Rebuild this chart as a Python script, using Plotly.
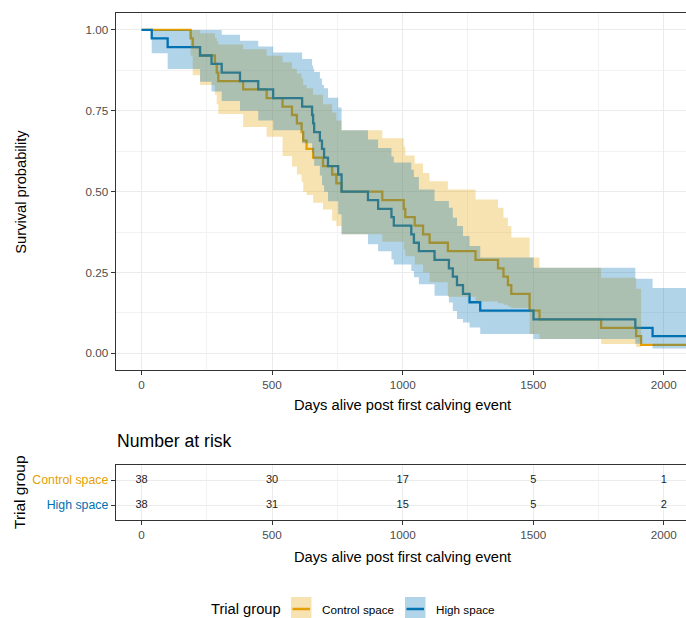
import plotly.graph_objects as go

# ---------------- data ----------------
ctrl_time = [0, 188, 196, 224, 281, 288, 294, 389, 479, 540, 576, 595, 613, 619, 632, 657, 695, 730, 746, 766,
             922, 1004, 1010, 1046, 1078, 1103, 1173, 1279, 1365, 1386, 1403, 1416, 1486, 1524, 1760, 1894, 1913]
ctrl_surv = [1.0, .974, .947, .921, .895, .868, .842, .816, .789, .763, .737, .711, .684, .658, .632, .605, .579, .553, .526, .500,
             .474, .447, .421, .395, .368, .342, .316, .289, .263, .237, .211, .184, .132, .105, .079, .053, .026]
ctrl_upper = [1.0, 1.0, 1.0, 0.99, 0.975, 0.965, 0.955, 0.94, 0.92, 0.90, 0.88, 0.865, 0.85, 0.83, 0.82, 0.80, 0.77, 0.745, 0.72, 0.69,
              0.665, 0.64, 0.612, 0.587, 0.558, 0.532, 0.507, 0.476, 0.45, 0.419, 0.394, 0.358, 0.296, 0.265, 0.234, 0.20, None]
ctrl_lower = [1.0, 0.92, 0.86, 0.83, 0.80, 0.77, 0.74, 0.70, 0.67, 0.61, 0.578, 0.553, 0.53, 0.50, 0.49, 0.466, 0.445, 0.41, 0.394, 0.368,
              0.345, 0.32, 0.30, 0.275, 0.25, 0.22, 0.175, 0.16, 0.155, 0.15, 0.145, 0.14, 0.06, 0.044, 0.029, 0.02, None]

hs_time = [0, 39, 100, 224, 268, 307, 377, 447, 504, 615, 653, 657, 661, 683, 691, 699, 714, 753, 766, 867,
           906, 957, 966, 1033, 1043, 1062, 1122, 1177, 1192, 1208, 1231, 1256, 1297, 1501, 1891, 1957]
hs_surv = [1.0, .974, .947, .921, .895, .868, .842, .816, .789, .763, .737, .711, .684, .658, .632, .605, .579, .553, .500, .474,
           .447, .421, .395, .368, .342, .316, .289, .263, .237, .211, .184, .158, .132, .105, .079, .053]
hs_upper = [1.0, 1.0, 1.0, 1.0, 1.0, 0.985, 0.967, 0.949, 0.93, 0.91, 0.89, 0.88, 0.87, 0.85, 0.83, 0.82, 0.79, 0.76, 0.69, 0.661,
            0.635, 0.609, 0.59, 0.568, 0.545, 0.507, 0.471, 0.45, 0.419, 0.394, 0.363, 0.332, 0.296, 0.265, 0.231, 0.202]
hs_lower = [1.0, 0.928, 0.879, 0.84, 0.81, 0.78, 0.75, 0.72, 0.69, 0.65, 0.62, 0.60, 0.58, 0.55, 0.52, 0.50, 0.47, 0.43, 0.368, 0.337,
            0.316, 0.29, 0.275, 0.255, 0.235, 0.214, 0.178, 0.157, 0.131, 0.106, 0.095, 0.08, 0.06, 0.044, 0.03, 0.015]

risk_times = [0, 500, 1000, 1500, 2000]
risk_control = [38, 30, 17, 5, 1]
risk_high = [38, 31, 15, 5, 2]

groups = ["Control space", "High space"]
colors = {"Control space": "#E69F00", "High space": "#0072B2"}
fills = {"Control space": "rgba(230,159,0,0.3)", "High space": "rgba(0,114,178,0.3)"}

x_ticks = [0, 500, 1000, 1500, 2000]
y_ticks = [0, 0.25, 0.5, 0.75, 1.0]
y_ticklabels = ["0.00", "0.25", "0.50", "0.75", "1.00"]
line_end = 2150

# ---------------- figure ----------------
W, H = 686, 618
FONT = "Liberation Sans, Arial, sans-serif"


def pxx(x):
    return x / W


def pyy(y):
    return 1 - y / H


def step_line(times, vals, end):
    return list(times) + [end], list(vals) + [vals[-1]]


fig = go.Figure()

# survival lines (drawn first so that the bands tint them, as in the original)
for name, t, s in [("Control space", ctrl_time, ctrl_surv), ("High space", hs_time, hs_surv)]:
    xs, ys = step_line(t, s, line_end)
    fig.add_trace(go.Scatter(x=xs, y=ys, mode="lines",
                             line=dict(color=colors[name], width=2.3, shape="hv"),
                             showlegend=False, hoverinfo="skip"))

# confidence bands
bands = [
    ("Control space", ctrl_time, ctrl_lower, ctrl_upper),
    ("High space", hs_time, hs_lower, hs_upper),
]
for name, t, lo, up in bands:
    idx = [i for i, v in enumerate(up) if v is not None]
    tt = [t[i] for i in idx]
    ll = [lo[i] for i in idx]
    uu = [up[i] for i in idx]
    end = t[idx[-1] + 1] if idx[-1] + 1 < len(t) else line_end
    xl, yl = step_line(tt, ll, end)
    xu, yu = step_line(tt, uu, end)
    fig.add_trace(go.Scatter(x=xl, y=yl, mode="lines",
                             line=dict(width=0, color="rgba(0,0,0,0)", shape="hv"),
                             showlegend=False, hoverinfo="skip"))
    fig.add_trace(go.Scatter(x=xu, y=yu, mode="lines", fill="tonexty", fillcolor=fills[name],
                             line=dict(width=0, color="rgba(0,0,0,0)", shape="hv"),
                             showlegend=False, hoverinfo="skip"))

# risk table numbers
for yval, vals in [(1, risk_control), (0, risk_high)]:
    fig.add_trace(go.Scatter(x=risk_times, y=[yval] * len(risk_times), mode="text",
                             text=[str(v) for v in vals],
                             textfont=dict(size=11, color="#1a1a1a", family=FONT),
                             xaxis="x2", yaxis="y2", showlegend=False, hoverinfo="skip"))

axis_common = dict(
    ticks="outside", ticklen=4, tickcolor="#333333", tickwidth=1,
    showline=True, linecolor="#333333", linewidth=1, mirror=True,
    showgrid=True, gridcolor="#EBEBEB", gridwidth=1.1, zeroline=False,
    automargin=False,
    tickfont=dict(size=11.7, color="#4D4D4D", family=FONT),
)

x_left, x_right = 115.7 / W, 1.0
fig.update_layout(
    width=W, height=H,
    margin=dict(l=0, r=0, t=0, b=0, autoexpand=False),
    paper_bgcolor="white", plot_bgcolor="white",
    font=dict(family=FONT),
    xaxis=dict(domain=[x_left, x_right], range=[-99, 2085], tickvals=x_ticks, anchor="y",
               minor=dict(dtick=250, tick0=0, showgrid=True, gridcolor="#F2F2F2", gridwidth=0.6),
               **axis_common),
    yaxis=dict(domain=[pyy(370), pyy(13.3)], range=[-0.0515, 1.0515], tickvals=y_ticks,
               ticktext=y_ticklabels, anchor="x",
               minor=dict(dtick=0.125, tick0=0, showgrid=True, gridcolor="#F2F2F2", gridwidth=0.6),
               **axis_common),
    xaxis2=dict(domain=[x_left, x_right], range=[-99, 2085], tickvals=x_ticks, anchor="y2",
                minor=dict(dtick=250, tick0=0, showgrid=True, gridcolor="#F2F2F2", gridwidth=0.6),
                **axis_common),
    yaxis2=dict(domain=[pyy(520), pyy(465)], range=[-0.6, 1.6], tickvals=[1, 0],
                ticktext=['<span style="color:#E69F00">Control space</span>',
                          '<span style="color:#0072B2">High space</span>'],
                anchor="x2", **axis_common),
)
fig.update_yaxes(selector=dict(anchor="x2"), tickfont=dict(size=12.3, family=FONT))


def note(text, x, y, size, xanchor="center", angle=0):
    return dict(text=text, x=pxx(x), y=pyy(y), xref="paper", yref="paper",
                xanchor=xanchor, yanchor="middle", textangle=angle, showarrow=False,
                font=dict(size=size, color="black", family=FONT))


ann = [
    note("Survival probability", 21, 191.7, 14.7, angle=-90),
    note("Days alive post first calving event", 402, 405, 14.7),
    note("Number at risk", 115, 441, 17.6, xanchor="left"),
    note("Days alive post first calving event", 402, 556.7, 14.7),
    note("Trial group", 19, 492, 15.5, angle=-90),
    note("Trial group", 283, 609, 14.7, xanchor="right"),
]

shapes = []
legend_items = [("Control space", 291, 320), ("High space", 405, 434)]
for name, kx, tx in legend_items:
    shapes.append(dict(type="rect", xref="paper", yref="paper", x0=pxx(kx), x1=pxx(kx + 20.5),
                       y0=pyy(621), y1=pyy(597), fillcolor=fills[name], line=dict(width=0)))
    shapes.append(dict(type="line", xref="paper", yref="paper", x0=pxx(kx + 1.5), x1=pxx(kx + 19),
                       y0=pyy(609), y1=pyy(609), line=dict(color=colors[name], width=2.5)))
    ann.append(note(name, tx, 609, 11.7, xanchor="left"))

fig.update_layout(annotations=ann, shapes=shapes)
fig.write_html("out.html", config={"displayModeBar": False},
               post_script="document.body.style.margin='0px';document.body.style.overflow='hidden';")
